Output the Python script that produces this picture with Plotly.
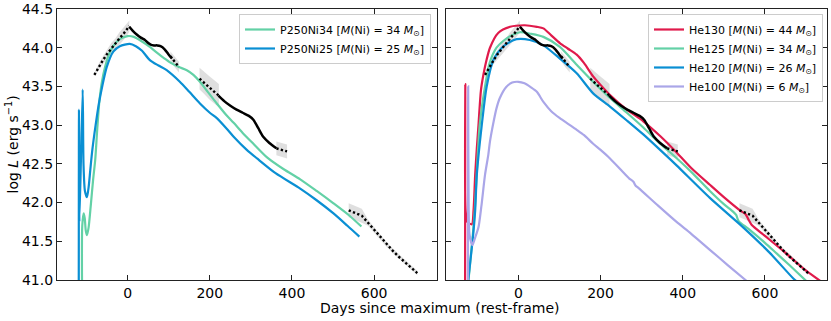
import plotly.graph_objects as go

# ---------------- observed light curve (same in both panels) ----------------
obs_dot1_days = [-81, -70, -60, -50, -40, -30, -20, -10, 0, 4]
obs_dot1_logL = [43.65, 43.76, 43.84, 43.92, 43.99, 44.05, 44.12, 44.18, 44.25, 44.28]
obs_dot1_err = [0.02, 0.04, 0.05, 0.06, 0.07, 0.07, 0.08, 0.08, 0.08, 0.07]

obs_sol1_days = [4, 12, 22, 32, 42, 50, 56, 64, 72, 80, 90, 100, 108]
obs_sol1_logL = [44.27, 44.22, 44.17, 44.13, 44.10, 44.06, 44.04, 44.03, 44.03, 44.02, 43.98, 43.91, 43.86]

obs_dot2_days = [104, 114, 125]
obs_dot2_logL = [43.89, 43.82, 43.75]
obs_dot2_err = [0.06, 0.07, 0.07]

obs_dot3_days = [175, 187, 199, 211, 222]
obs_dot3_logL = [43.60, 43.54, 43.48, 43.43, 43.38]
obs_dot3_err = [0.14, 0.14, 0.15, 0.15, 0.15]

obs_sol2_days = [221, 235, 250, 265, 280, 295, 306, 318, 330, 345, 362]
obs_sol2_logL = [43.38, 43.31, 43.25, 43.20, 43.16, 43.12, 43.07, 42.96, 42.85, 42.77, 42.70]

obs_dot4_days = [362, 375, 388]
obs_dot4_logL = [42.70, 42.68, 42.66]
obs_dot4_err = [0.09, 0.09, 0.09]

obs_dot5_days = [538, 554, 570, 585, 600, 615, 630, 645, 660, 675, 690, 705]
obs_dot5_logL = [41.90, 41.87, 41.83, 41.74, 41.65, 41.55, 41.46, 41.38, 41.30, 41.23, 41.16, 41.09]
obs_dot5_err = [0.09, 0.09, 0.09, 0.04, 0.03, 0.03, 0.03, 0.03, 0.03, 0.03, 0.03, 0.03]

# ---------------- left panel models ----------------
p250ni34_days = [-111, -110.5, -107, -104.5, -102, -99, -95, -90, -84, -79, -74, -69, -63, -55, -45,
                 -35, -19, 0, 15, 35, 54, 75, 90, 103, 125, 144, 160, 176, 195, 217, 240, 258, 280,
                 306, 340, 380, 420, 460, 501, 540, 569]
p250ni34_logL = [40.9, 41.7, 41.86, 41.80, 41.64, 41.58, 41.68, 41.95, 42.3, 42.55, 42.95, 43.3, 43.55,
                 43.75, 43.92, 44.02, 44.11, 44.15, 44.14, 44.08, 44.01, 43.92, 43.86, 43.81, 43.75,
                 43.71, 43.65, 43.56, 43.43, 43.28, 43.13, 43.03, 42.90, 42.76, 42.58, 42.43, 42.30,
                 42.15, 41.99, 41.83, 41.69]

p250ni25_days = [-119, -118.5, -117.5, -109.5, -107.5, -104, -99, -95, -91, -86, -78, -70, -62, -51,
                 -35, -19, 5, 20, 35, 54, 75, 95, 127, 150, 176, 200, 217, 240, 258, 290, 315, 360,
                 420, 460, 501, 535, 564]
p250ni25_logL = [40.9, 43.2, 41.75, 43.46, 42.5, 42.15, 42.07, 42.2, 42.42, 42.68, 43.0, 43.28, 43.5,
                 43.75, 43.95, 44.02, 44.05, 44.02, 43.96, 43.84, 43.77, 43.71, 43.56, 43.43, 43.28,
                 43.16, 43.09, 42.96, 42.85, 42.68, 42.57, 42.38, 42.18, 42.03, 41.86, 41.70, 41.56]

# ---------------- right panel models ----------------
he130_days = [-129.5, -129, -128.3, -124, -113, -109, -105, -101, -97, -91, -85, -77, -69, -49, -20,
              16, 45, 61, 80, 101, 120, 142, 160, 182, 200, 223, 264, 304, 345, 381, 420, 466, 500,
              539, 553, 560, 568, 600, 650, 700, 745]
he130_logL = [40.9, 43.53, 41.9, 41.75, 41.72, 41.9, 42.36, 42.7, 43.0, 43.45, 43.65, 43.85, 44.0,
              44.19, 44.27, 44.29, 44.27, 44.25, 44.16, 44.06, 43.99, 43.91, 43.80, 43.63, 43.52,
              43.39, 43.20, 43.05, 42.86, 42.67, 42.45, 42.23, 42.07, 41.90, 41.85, 41.78, 41.71,
              41.57, 41.35, 41.12, 40.95]

he125_days = [-123, -111, -106, -101, -94, -81, -70, -53, -36, -20, 4, 30, 61, 101, 142, 182, 223,
              264, 304, 345, 369, 420, 466, 500, 523, 530, 536, 560, 600, 629, 660, 700]
he125_logL = [40.9, 41.57, 41.9, 42.4, 43.0, 43.5, 43.8, 44.0, 44.09, 44.15, 44.2, 44.18, 44.14,
              44.01, 43.78, 43.56, 43.35, 43.16, 42.97, 42.76, 42.65, 42.40, 42.15, 41.98, 41.88,
              41.84, 41.76, 41.66, 41.48, 41.34, 41.19, 40.99]

he120_days = [-124, -110, -105, -101, -89, -77, -60, -40, -28, -4, 28, 61, 101, 142, 182, 223, 264,
              304, 345, 385, 466, 547, 610, 669, 680]
he120_logL = [40.9, 41.58, 41.9, 42.36, 43.0, 43.5, 43.85, 44.0, 44.05, 44.11, 44.10, 44.03, 43.86,
              43.67, 43.41, 43.24, 43.06, 42.88, 42.68, 42.48, 42.06, 41.68, 41.36, 41.02, 40.97]

he100_days = [-122.5, -122, -121, -119, -112, -108, -103, -97, -90, -81, -73, -69, -60, -53, -45,
              -30, -15, 0, 15, 30, 45, 61, 80, 101, 120, 142, 160, 182, 200, 223, 250, 270, 280,
              285, 292, 340, 385, 420, 466, 510, 555]
he100_logL = [40.9, 43.50, 42.0, 41.6, 41.45, 41.5, 41.58, 41.68, 41.95, 42.36, 42.62, 42.79, 43.05,
              43.22, 43.35, 43.49, 43.55, 43.56, 43.54, 43.49, 43.43, 43.30, 43.18, 43.09, 43.02,
              42.94, 42.87, 42.76, 42.68, 42.57, 42.42, 42.31, 42.27, 42.22, 42.19, 41.96, 41.75,
              41.60, 41.39, 41.19, 40.99]

left_models = [
    ("P250Ni34", "34", p250ni34_days, p250ni34_logL, "#63d1a6"),
    ("P250Ni25", "25", p250ni25_days, p250ni25_logL, "#0a8fd3"),
]
right_models = [
    ("He130", "44", he130_days, he130_logL, "#e01a4b"),
    ("He125", "34", he125_days, he125_logL, "#63d1a6"),
    ("He120", "26", he120_days, he120_logL, "#0a8fd3"),
    ("He100", "6", he100_days, he100_logL, "#aaa6e8"),
]

dotted_segments = [
    (obs_dot1_days, obs_dot1_logL, obs_dot1_err),
    (obs_dot2_days, obs_dot2_logL, obs_dot2_err),
    (obs_dot3_days, obs_dot3_logL, obs_dot3_err),
    (obs_dot4_days, obs_dot4_logL, obs_dot4_err),
    (obs_dot5_days, obs_dot5_logL, obs_dot5_err),
]
solid_segments = [
    (obs_sol1_days, obs_sol1_logL),
    (obs_sol2_days, obs_sol2_logL),
]

FONT = "DejaVu Sans"
fig = go.Figure()


def label(name, mni):
    return f"{name} [<i>M</i>(Ni) = {mni} <i>M</i><sub>⊙</sub>]"


def add_panel(models, xa, ya, legend):
    # uncertainty bands
    for d, l, e in dotted_segments:
        up = [v + s for v, s in zip(l, e)]
        lo = [v - s for v, s in zip(l, e)]
        fig.add_trace(go.Scatter(x=d + d[::-1], y=up + lo[::-1], fill="toself",
                                 fillcolor="rgba(150,150,150,0.3)", line=dict(width=0),
                                 mode="lines", hoverinfo="skip", showlegend=False,
                                 xaxis=xa, yaxis=ya))
    # models
    for name, mni, d, l, c in models:
        fig.add_trace(go.Scatter(x=d, y=l, mode="lines", name=label(name, mni),
                                 line=dict(color=c, width=2.2, shape="spline", smoothing=0.7),
                                 xaxis=xa, yaxis=ya, legend=legend))
    # observed
    for d, l in solid_segments:
        fig.add_trace(go.Scatter(x=d, y=l, mode="lines", showlegend=False,
                                 line=dict(color="black", width=2.5, shape="spline", smoothing=0.7),
                                 xaxis=xa, yaxis=ya))
    for d, l, e in dotted_segments:
        fig.add_trace(go.Scatter(x=d, y=l, mode="lines", showlegend=False,
                                 line=dict(color="black", width=2.4, dash="2.3px,2.3px"),
                                 xaxis=xa, yaxis=ya))


add_panel(left_models, "x", "y", "legend")
add_panel(right_models, "x2", "y2", "legend2")

W, H = 831, 321
axis_common = dict(ticks="inside", ticklen=5, tickwidth=1, tickcolor="#222", showline=True,
                   linecolor="#222", linewidth=1.2, mirror="ticks", showgrid=False, zeroline=False,
                   automargin=False, tickfont=dict(family=FONT, size=14, color="black"))
ydom = [1 - 280 / H, 1 - 9 / H]
x_ticks = [0, 200, 400, 600]

fig.update_layout(
    width=W, height=H, margin=dict(l=0, r=0, t=0, b=0, pad=0),
    paper_bgcolor="white", plot_bgcolor="white",
    font=dict(family=FONT, color="black"),
    xaxis=dict(domain=[57 / W, 437 / W], range=[-172, 753], tickvals=x_ticks, anchor="y", **axis_common),
    yaxis=dict(domain=ydom, range=[41.0, 44.5], dtick=0.5, tickformat=".1f", anchor="x", **axis_common),
    xaxis2=dict(domain=[446 / W, 827 / W], range=[-176, 751], tickvals=x_ticks, anchor="y2", **axis_common),
    yaxis2=dict(domain=ydom, range=[41.0, 44.5], dtick=0.5, showticklabels=False, anchor="x2", **axis_common),
    legend=dict(x=431 / W, y=1 - 14 / H, xanchor="right", yanchor="top", bgcolor="rgba(255,255,255,0.85)",
                bordercolor="#cccccc", borderwidth=1, font=dict(family=FONT, size=11), tracegroupgap=0),
    legend2=dict(x=823 / W, y=1 - 14 / H, xanchor="right", yanchor="top", bgcolor="rgba(255,255,255,0.85)",
                 bordercolor="#cccccc", borderwidth=1, font=dict(family=FONT, size=11), tracegroupgap=0),
    annotations=[
        dict(text="Days since maximum (rest-frame)", x=440 / W, y=1 - 308 / H, xref="paper", yref="paper",
             showarrow=False, xanchor="center", yanchor="middle", font=dict(family=FONT, size=14)),
        dict(text="log <i>L</i> (erg s<sup>−1</sup>)", x=12 / W, y=1 - 144.5 / H, xref="paper", yref="paper",
             showarrow=False, textangle=-90, xanchor="center", yanchor="middle", font=dict(family=FONT, size=14)),
    ],
)

fig.write_html("out.html", config={"displayModeBar": False},
               post_script="document.body.style.margin='0px';document.body.style.overflow='hidden';")
